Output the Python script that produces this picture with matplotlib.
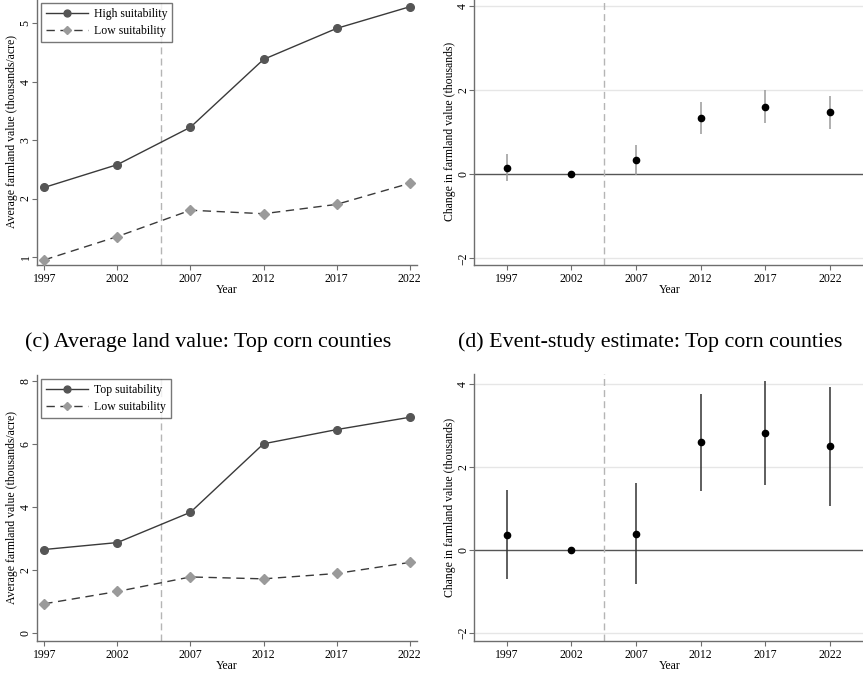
import matplotlib.pyplot as plt

plt.rcParams['font.family'] = ['Liberation Serif', 'DejaVu Serif']

# Data
years = [1997, 2002, 2007, 2012, 2017, 2022]

# panel (a): all counties
high_suit = [2.19, 2.58, 3.22, 4.38, 4.91, 5.28]
low_suit = [0.95, 1.35, 1.80, 1.74, 1.90, 2.26]

# panel (b): event-study, all counties
est_b = [0.16, 0.0, 0.33, 1.35, 1.61, 1.48]
lo_b = [-0.17, 0.0, -0.01, 0.96, 1.22, 1.08]
hi_b = [0.49, 0.0, 0.69, 1.73, 2.00, 1.87]

# panel (c): top corn counties
top_suit = [2.66, 2.88, 3.84, 6.01, 6.46, 6.85]
low_suit_c = [0.94, 1.33, 1.79, 1.73, 1.90, 2.25]

# panel (d): event-study, top corn counties
est_d = [0.37, 0.0, 0.39, 2.60, 2.82, 2.51]
lo_d = [-0.69, 0.0, -0.81, 1.43, 1.58, 1.07]
hi_d = [1.44, 0.0, 1.61, 3.76, 4.06, 3.92]

W, H = 863, 674
fig = plt.figure(figsize=(W / 100, H / 100), dpi=100)


def px_axes(left, right, top, bottom):
    return fig.add_axes([left / W, 1 - bottom / H, (right - left) / W, (bottom - top) / H])


def style(ax, yticks, ylabel):
    for s in ['top', 'right']:
        ax.spines[s].set_visible(False)
    for s in ['left', 'bottom']:
        ax.spines[s].set_color('#6e6e6e')
        ax.spines[s].set_linewidth(1.0)
    ax.set_xticks(years)
    ax.set_yticks(yticks)
    ax.tick_params(colors='#6e6e6e', labelcolor='black', labelsize=8.5, length=3.5, width=0.8)
    ax.tick_params(axis='y', pad=0.3)
    ax.tick_params(axis='x', pad=2.5)
    for lab in ax.get_yticklabels():
        lab.set_rotation(90)
        lab.set_va('center')
    ax.set_xlabel('Year', fontsize=8.5, labelpad=-1)
    ax.set_ylabel(ylabel, fontsize=8.5, labelpad=1)


def level_panel(ax, a, b, name_a, ylim, yticks, legend_xy):
    ax.plot(years, a, color='#3a3a3a', lw=1.0, marker='o', ms=5.5,
            mfc='#555555', mec='#555555', label=name_a, zorder=3)
    ax.plot(years, b, color='#3a3a3a', lw=1.0, ls=(0, (6, 4)), marker='D', ms=5,
            mfc='#9a9a9a', mec='#9a9a9a', label='Low suitability', zorder=3)
    ax.axvline(2005, color='#b5b5b5', lw=1.0, ls=(0, (5, 3)), zorder=1)
    ax.set_xlim(1996.5, 2022.5)
    ax.set_ylim(*ylim)
    style(ax, yticks, 'Average farmland value (thousands/acre)')
    leg = ax.legend(loc='upper left', bbox_to_anchor=(legend_xy[0] / W, 1 - legend_xy[1] / H),
                    bbox_transform=fig.transFigure, fontsize=8.5, frameon=True, fancybox=False,
                    edgecolor='#555555', handlelength=3.6, borderpad=0.4, labelspacing=0.45,
                    handletextpad=0.5, borderaxespad=0, markerscale=0.9)
    leg.get_frame().set_linewidth(1.0)


def event_panel(ax, est, lo, hi, ci_color, ylim):
    for y in [-2, 2, 4]:
        ax.axhline(y, color='#e6e6e6', lw=1.0, zorder=0)
    ax.axhline(0, color='#555555', lw=1.0, zorder=1)
    ax.axvline(2004.5, color='#b5b5b5', lw=1.0, ls=(0, (5, 3)), zorder=1)
    ax.vlines(years, lo, hi, color=ci_color, lw=1.1, zorder=2)
    ax.plot(years, est, 'o', color='black', ms=4.5, zorder=3)
    ax.set_xlim(1994.5, 2024.7)
    ax.set_ylim(*ylim)
    style(ax, [-2, 0, 2, 4], 'Change in farmland value (thousands)')


# top row (cropped at the top)
ax_a = px_axes(37, 417, -2, 265)
level_panel(ax_a, high_suit, low_suit, 'High suitability', (0.863, 5.43),
            [1, 2, 3, 4, 5], (41, 3.3))

ax_b = px_axes(474.3, 865, -2, 265)
event_panel(ax_b, est_b, lo_b, hi_b, '#9a9a9a', (-2.155, 4.19))

# bottom row
ax_c = px_axes(37, 417, 375, 640.7)
level_panel(ax_c, top_suit, low_suit_c, 'Top suitability', (-0.23, 8.19),
            [0, 2, 4, 6, 8], (41, 379))

ax_d = px_axes(474.3, 865, 374, 640.7)
event_panel(ax_d, est_d, lo_d, hi_d, '#333333', (-2.18, 4.24))

fig.text(208 / W, 1 - 342 / H, '(c) Average land value: Top corn counties',
         ha='center', va='center', fontsize=15.8)
fig.text(650 / W, 1 - 342 / H, '(d) Event-study estimate: Top corn counties',
         ha='center', va='center', fontsize=15.8)

fig.savefig('out.png', dpi=100)
